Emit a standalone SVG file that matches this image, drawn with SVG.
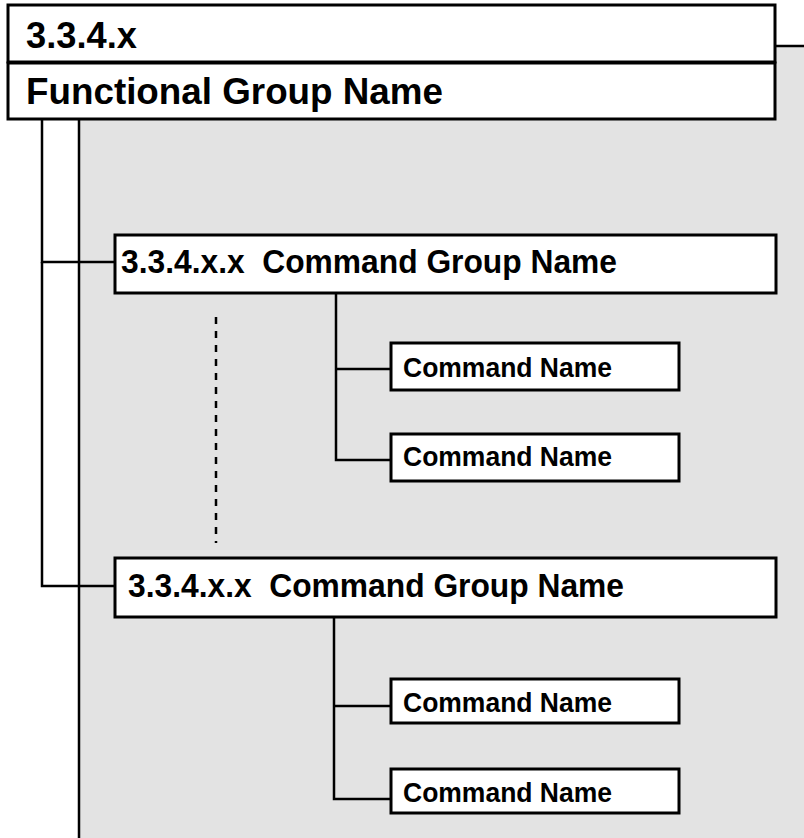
<svg xmlns="http://www.w3.org/2000/svg" width="804" height="838" viewBox="0 0 804 838">
<style>
.box{fill:#fff;stroke:#000;stroke-width:3}
.ln{fill:none;stroke:#000;stroke-width:2.5}
.t{font-family:"Liberation Sans",Arial,sans-serif;font-weight:bold;fill:#000}
.big{font-size:37px}
.grp{font-size:32.5px}
.cmd{font-size:27px}
</style>
<rect width="804" height="838" fill="#fff"/>
<g id="panel">
<rect x="79" y="46" width="740" height="800" fill="#e3e3e3" stroke="#000" stroke-width="2.5"/>
</g>
<g id="connectors">
<polyline class="ln" points="115,262 42,262 42,119"/>
<polyline class="ln" points="42,262 42,586 115,586"/>
<polyline class="ln" points="336,293 336,460 391,460"/>
<line class="ln" x1="336" y1="369" x2="391" y2="369"/>
<polyline class="ln" points="334,617 334,799 391,799"/>
<line class="ln" x1="334" y1="706" x2="391" y2="706"/>
<line class="ln" x1="216" y1="317" x2="216" y2="543" stroke-dasharray="7,7"/>
</g>
<g id="section">
<rect class="box" x="8" y="5" width="767" height="57"/>
<text class="t big" x="26" y="48" textLength="111" lengthAdjust="spacingAndGlyphs">3.3.4.x</text>
</g>
<g id="functional-group">
<rect class="box" x="8" y="63" width="767" height="56"/>
<text class="t big" x="26" y="104" textLength="417" lengthAdjust="spacingAndGlyphs">Functional Group Name</text>
</g>
<g id="command-group-1">
<rect class="box" x="115" y="235" width="661" height="58"/>
<text class="t grp" x="121" y="273" textLength="496" lengthAdjust="spacingAndGlyphs" xml:space="preserve">3.3.4.x.x  Command Group Name</text>
</g>
<g id="command-1">
<rect class="box" x="391" y="343" width="288" height="47"/>
<text class="t cmd" x="403" y="377" textLength="209" lengthAdjust="spacingAndGlyphs">Command Name</text>
</g>
<g id="command-2">
<rect class="box" x="391" y="434" width="288" height="47"/>
<text class="t cmd" x="403" y="466" textLength="209" lengthAdjust="spacingAndGlyphs">Command Name</text>
</g>
<g id="command-group-2">
<rect class="box" x="115" y="558" width="661" height="59"/>
<text class="t grp" x="128" y="597" textLength="496" lengthAdjust="spacingAndGlyphs" xml:space="preserve">3.3.4.x.x  Command Group Name</text>
</g>
<g id="command-3">
<rect class="box" x="391" y="679" width="288" height="44"/>
<text class="t cmd" x="403" y="712" textLength="209" lengthAdjust="spacingAndGlyphs">Command Name</text>
</g>
<g id="command-4">
<rect class="box" x="391" y="769" width="288" height="44"/>
<text class="t cmd" x="403" y="802" textLength="209" lengthAdjust="spacingAndGlyphs">Command Name</text>
</g>
</svg>
